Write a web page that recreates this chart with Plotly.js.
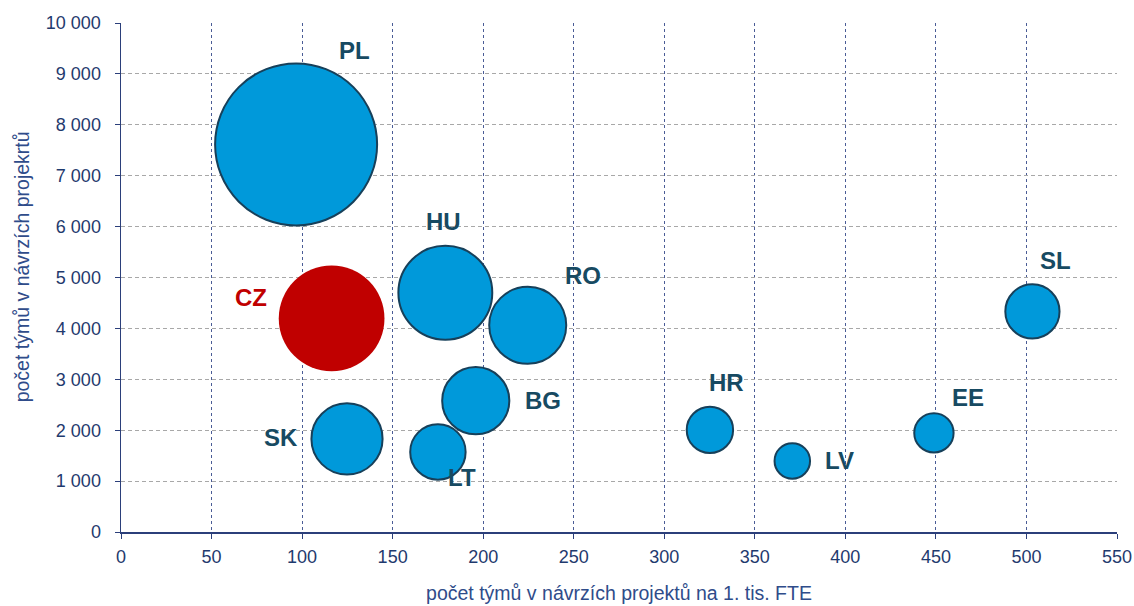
<!DOCTYPE html>
<html>
<head>
<meta charset="utf-8">
<script src="https://cdn.plot.ly/plotly-3.0.1.min.js"></script>
<style>
html,body{margin:0;padding:0;background:#fff;}
#chart{width:1134px;height:606px;}
</style>
</head>
<body>
<div id="chart"></div>
<script>
// Data
const countries = ["PL","CZ","HU","RO","BG","SK","LT","HR","LV","EE","SL"];
const teamsPerFTE = [96.7, 116.3, 179.1, 224.6, 195.9, 124.8, 175.0, 325.2, 370.7, 448.9, 503.3];
const teamsCount = [7615, 4196, 4700, 4060, 2580, 1828, 1573, 2006, 1397, 1947, 4334];
const bubbleValue = [100, 42.6, 33.6, 22.6, 17.2, 19.3, 11.7, 8.2, 4.8, 5.9, 11.2];
const highlight = "CZ";

const xTitle = "počet týmů v návrzích projektů na 1. tis. FTE";
const yTitle = "počet týmů v návrzích projekrtů";

// label offsets (pixels) relative to bubble centres
const labelShift = {
  PL:[58,94], CZ:[-81,21], HU:[-2,71], RO:[55,50], BG:[67,0], SK:[-66,1],
  LT:[24,-26], HR:[17,47], LV:[47,0], EE:[34,35], SL:[23,51]
};

const blue = "#0099DA", red = "#C00000", outline = "#17405A", labelCol = "#174A62";

const colors = countries.map(c => c === highlight ? red : blue);
const lineCols = countries.map(c => c === highlight ? red : outline);
const lineW = countries.map(c => c === highlight ? 0 : 2);

const trace = {
  type: "scatter",
  mode: "markers",
  x: teamsPerFTE,
  y: teamsCount,
  text: countries,
  hoverinfo: "text+x+y",
  marker: {
    size: bubbleValue,
    sizemode: "area",
    sizeref: 100 / (2 * 81 * 81),
    color: colors,
    opacity: 1,
    line: { color: lineCols, width: lineW }
  },
  cliponaxis: false,
  showlegend: false
};

const fam = "Arial, Liberation Sans, sans-serif";
const titleFont = { family: fam, size: 19.5, color: "#2F4C8A" };

const annotations = countries.map((c, i) => ({
  x: teamsPerFTE[i], y: teamsCount[i], xref: "x", yref: "y",
  text: "<b>" + c + "</b>", showarrow: false,
  xshift: labelShift[c][0], yshift: labelShift[c][1],
  font: { family: fam, size: 24, color: c === highlight ? red : labelCol }
}));
// y-axis title placed as an annotation to match the reference's vertical position
annotations.push({
  xref: "paper", yref: "paper", x: 0, y: 0.52, xanchor: "center", yanchor: "middle",
  xshift: -99, text: yTitle, textangle: -90, showarrow: false, font: titleFont
});

const axisCol = "#2B3F7A";
const tickFont = { family: fam, size: 18, color: "#1F3A6E" };

const layout = {
  width: 1134, height: 606,
  margin: { l: 121, r: 17, t: 23, b: 74 },
  paper_bgcolor: "#fff", plot_bgcolor: "#fff",
  separators: ", ",
  xaxis: {
    range: [0, 550], dtick: 50, tick0: 0,
    showline: true, linecolor: axisCol, linewidth: 1.5,
    ticks: "outside", ticklen: 5, tickcolor: axisCol, tickwidth: 1,
    ticklabelstandoff: 3,
    showgrid: true, gridcolor: "#4A5C96", griddash: "3px,3px", gridwidth: 1,
    zeroline: false, tickfont: tickFont,
    title: { text: xTitle, font: titleFont, standoff: 20 },
    fixedrange: true
  },
  yaxis: {
    range: [0, 10000], dtick: 1000, tick0: 0, tickformat: ",d",
    showline: true, linecolor: axisCol, linewidth: 1.5,
    ticks: "outside", ticklen: 5, tickcolor: axisCol, tickwidth: 1,
    ticklabelstandoff: 10,
    showgrid: true, gridcolor: "#A8A8A8", griddash: "4px,3px", gridwidth: 1,
    zeroline: false, tickfont: tickFont,
    fixedrange: true
  },
  annotations: annotations
};

Plotly.newPlot("chart", [trace], layout, { displayModeBar: false, staticPlot: true });
</script>
</body>
</html>
